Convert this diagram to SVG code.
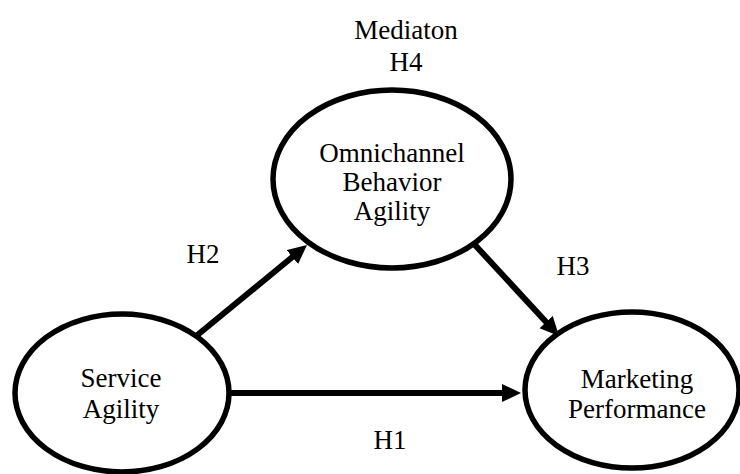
<svg xmlns="http://www.w3.org/2000/svg" width="740" height="474" viewBox="0 0 740 474">
<style>
text{font-family:"Liberation Serif","Times New Roman",serif;font-size:27px;fill:#000;text-anchor:middle}
.node ellipse{fill:#fff;stroke:#000;stroke-width:5.5}
.conn line{stroke:#000;stroke-width:6;fill:none}
</style>
<defs>
<marker id="ah" markerUnits="userSpaceOnUse" markerWidth="22" markerHeight="20" refX="2" refY="9" orient="auto">
<path d="M0,0 L19,9 L0,18 z" fill="#000"/>
</marker>
</defs>
<rect width="740" height="474" fill="#fff"/>
<g id="connectors" class="conn">
<line x1="230" y1="393" x2="504" y2="393" marker-end="url(#ah)"/>
<line x1="195" y1="337" x2="293.9" y2="255.8" marker-end="url(#ah)"/>
<line x1="475" y1="245" x2="547.5" y2="323.5" marker-end="url(#ah)"/>
</g>
<g id="service" class="node">
<ellipse cx="122" cy="393" rx="107" ry="79"/>
<text x="121" y="387">Service</text>
<text x="121" y="418">Agility</text>
</g>
<g id="omnichannel" class="node">
<ellipse cx="392" cy="179" rx="119" ry="89"/>
<text x="392" y="162">Omnichannel</text>
<text x="392" y="191">Behavior</text>
<text x="392" y="220">Agility</text>
</g>
<g id="marketing" class="node">
<ellipse cx="632" cy="390" rx="107" ry="78"/>
<text x="637" y="388">Marketing</text>
<text x="637" y="418">Performance</text>
</g>
<g id="labels">
<text x="406" y="39" font-size="28">Mediaton</text>
<text x="406" y="71" font-size="28">H4</text>
<text x="203" y="263">H2</text>
<text x="573" y="275">H3</text>
<text x="390" y="449">H1</text>
</g>
</svg>
